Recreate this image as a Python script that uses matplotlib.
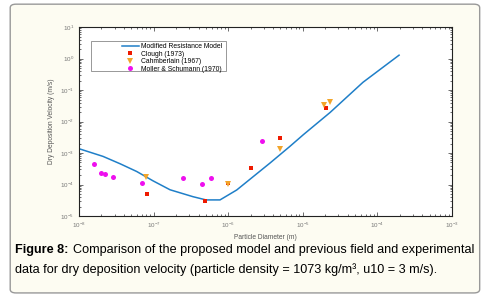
import matplotlib
matplotlib.use("Agg")
import matplotlib.pyplot as plt
from matplotlib.patches import FancyBboxPatch, Rectangle
from matplotlib.ticker import LogLocator, NullFormatter

plt.rcParams['font.family'] = ['Liberation Sans', 'DejaVu Sans']

# modified resistance model
model_d = [1.0e-8, 2.1e-8, 3.55e-8, 5.93e-8, 9.8e-8, 1.66e-7, 3.37e-7, 5.04e-7, 7.76e-7,
           1.30e-6, 2.17e-6, 3.63e-6, 6.7e-6, 1.02e-5, 2.32e-5, 6.4e-5, 1.95e-4]
model_v = [1.37e-3, 7.8e-4, 4.56e-4, 2.59e-4, 1.31e-4, 6.8e-5, 4.1e-5, 3.24e-5, 3.24e-5,
           6.7e-5, 1.79e-4, 4.8e-4, 1.62e-3, 3.85e-3, 1.94e-2, 0.176, 1.28]

clough_d = [8.1e-8, 4.9e-7, 9.8e-7, 2.0e-6, 5.0e-6, 2.04e-5]
clough_v = [4.9e-5, 2.95e-5, 1.1e-4, 3.3e-4, 3.0e-3, 2.75e-2]

chamb_d = [7.9e-8, 9.8e-7, 5.0e-6, 1.95e-5, 2.34e-5]
chamb_v = [1.78e-4, 1.02e-4, 1.35e-3, 3.4e-2, 4.3e-2]

moller_d = [1.58e-8, 2.0e-8, 2.24e-8, 2.82e-8, 6.9e-8, 2.5e-7, 4.5e-7, 5.9e-7, 2.8e-6]
moller_v = [4.6e-4, 2.4e-4, 2.14e-4, 1.78e-4, 1.12e-4, 1.58e-4, 1.02e-4, 1.58e-4, 2.45e-3]

fig = plt.figure(figsize=(4.86, 2.98), dpi=100)
fig.patch.set_facecolor('white')

# cream panel with rounded border
panel = FancyBboxPatch((0.021, 0.017), 0.966, 0.969, boxstyle="round,pad=0,rounding_size=0.012",
                       transform=fig.transFigure, facecolor='#fdfcf2', edgecolor='#999999',
                       linewidth=1.0, zorder=-10)
fig.patches.append(panel)

ax = fig.add_axes([0.1626, 0.2752, 0.7675, 0.634])
ax.set_zorder(5)
ax.set_facecolor('white')

ax.plot(model_d, model_v, color='#1f7fc8', lw=1.1, label='Modified Resistance Model')
ax.plot(clough_d, clough_v, 's', color='#ee1a00', ms=2.8, mew=0, label='Clough (1973)')
ax.plot(chamb_d, chamb_v, 'v', color='#f2a52a', ms=4, mew=0, label='Cahmberlain (1967)')
ax.plot(moller_d, moller_v, 'o', color='#ee10ee', ms=3.6, mew=0, label='Moller & Schumann (1970)')

ax.set_xscale('log')
ax.set_yscale('log')
ax.set_xlim(1e-8, 1e-3)
ax.set_ylim(1e-5, 1e1)

ax.xaxis.set_major_locator(LogLocator(base=10, numticks=10))
ax.yaxis.set_major_locator(LogLocator(base=10, numticks=10))
ax.xaxis.set_minor_locator(LogLocator(base=10, subs=range(2, 10), numticks=20))
ax.yaxis.set_minor_locator(LogLocator(base=10, subs=range(2, 10), numticks=20))
ax.xaxis.set_minor_formatter(NullFormatter())
ax.yaxis.set_minor_formatter(NullFormatter())

ax.tick_params(which='both', direction='in', top=True, right=True, colors='#333333',
               labelcolor='#777777', labelsize=4.5, width=0.5)
ax.tick_params(which='major', length=3)
ax.tick_params(which='minor', length=1.5)
for s in ax.spines.values():
    s.set_linewidth(0.8)
    s.set_color('#222222')

ax.set_xlabel('Particle Diameter (m)', fontsize=4.8, color='#555555', labelpad=3)
ax.set_ylabel('Dry Deposition Velocity (m/s)', fontsize=4.8, color='#555555', labelpad=4)

# legend box drawn separately (wide left margin)
ax.add_patch(Rectangle((0.0322, 0.767), 0.362, 0.159, transform=ax.transAxes,
                       facecolor='white', edgecolor='#888888', lw=0.6, zorder=4))
leg = ax.legend(loc='upper left', bbox_to_anchor=(0.115, 0.913), fontsize=4.9,
                frameon=False, handlelength=2.5, handletextpad=0.3, borderpad=0,
                labelspacing=0.05, borderaxespad=0)
leg.set_zorder(6)

# caption
fs = 9.1
r = fig.canvas.get_renderer()
t1 = fig.text(0.031, 0.161, 'Figure 8:', fontsize=fs, fontweight='bold', va='center')
bb = t1.get_window_extent(renderer=r)
x2 = (bb.x1 + 5) / fig.bbox.width
fig.text(x2, 0.161, 'Comparison of the proposed model and previous field and experimental',
         fontsize=fs, va='center')
fig.text(0.031, 0.095, 'data for dry deposition velocity (particle density = 1073 kg/m\u00b3, u10 = 3 m/s).',
         fontsize=fs, va='center')

fig.savefig('out.png', dpi=100)
